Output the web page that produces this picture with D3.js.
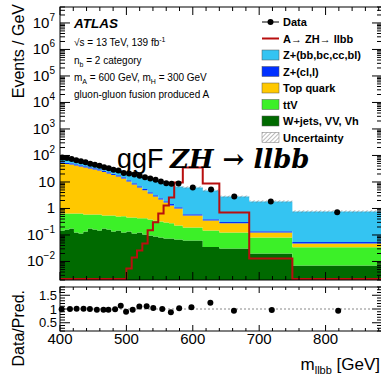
<!DOCTYPE html>
<html>
<head>
<meta charset="utf-8">
<script src="https://cdn.jsdelivr.net/npm/d3@7"></script>
<style>
body { margin: 0; background: #fff; }
text { font-family: "Liberation Sans", Arial, sans-serif; }
</style>
</head>
<body>
<svg id="chart" width="381" height="376"></svg>
<script>
// bin edges (GeV) of the m_llbb histogram
const edges = [400,407,414,421,428,435,442,449,456,463,470,477,484,492,500,508,516,524,532,540,548,556,564,572,585,615,640,685,750,885];

// background components, events / GeV per bin (bottom of stack first)
const wjets = [0.148,0.161,0.176,0.124,0.114,0.136,0.176,0.161,0.148,0.176,0.161,0.136,0.148,0.124,0.136,0.114,0.124,0.104,0.096,0.088,0.080,0.074,0.074,0.068,0.062,0.035,0.031,0.020,0.0071];
const ttv = [0.50,0.49,0.47,0.52,0.53,0.46,0.42,0.43,0.45,0.37,0.38,0.41,0.35,0.38,0.32,0.34,0.30,0.32,0.29,0.26,0.24,0.22,0.20,0.16,0.13,0.113,0.093,0.060,0.027];
const topQuark = [49.3,47.2,45.2,41.4,37.9,34.7,31.7,29.0,26.6,23.3,20.4,17.9,15.6,13.1,9.9,7.6,5.8,4.4,3.3,2.5,1.87,1.38,1.03,0.77,0.35,0.20,0.15,0.044,0.014];
const zLight = [6.0,5.7,5.5,5.0,4.6,4.2,3.9,3.6,3.3,2.9,2.5,2.2,1.9,1.6,1.25,0.97,0.74,0.57,0.44,0.34,0.26,0.20,0.16,0.12,0.065,0.042,0.033,0.015,0.006];
const zHeavy = [21,20,19,18,16.5,15,13.7,12.5,11,10,9.5,9.2,9,8.8,9,9.2,9.2,9,8.8,8.2,7.3,6.6,6.0,5.6,5.6,4.4,2.5,1.7,0.72];

// observed data per bin
const dataMain = [84,80,74,66,60,55,49,45,41,36,33,29,27,22,21,19,17,15,13.5,12,10.5,9,8.5,8.8,6.2,5.2,2.8,1.85,0.72];

// signal A -> ZH -> llbb per bin
const signal = [0,0,0,0,0,0,0,0,0,0,0,0,0,0,0.0054,0.014,0.026,0.048,0.15,0.30,0.65,1.3,2.6,9.6,35,8.8,0.71,0.013,0];

// ratio panel
const ratioMass = [402.5,415,425,435.5,445,455.5,465.5,473,483,491.5,499.5,509.5,519.5,530.5,540.5,554,567,579.5,598,626.5,662,719,819];
const ratioVals = [0.99,1.0,1.01,1.01,1.0,0.97,0.97,0.97,0.99,1.12,0.90,0.97,1.09,1.10,1.04,1.0,0.88,1.03,1.06,1.23,0.94,0.96,0.94];

const xTicks = [400,500,600,700,800];
const yExps = [-2,-1,0,1,2,3,4,5,6,7];
const ratioTicks = [0.5,1,1.5];

const keys = ["wjets","ttv","topQuark","zLight","zHeavy"];
const colors = {wjets:"#006a00", ttv:"#3cf028", topQuark:"#ffc800", zLight:"#0030ff", zHeavy:"#34c4f2"};

const svg = d3.select("#chart");
const L = 60, R = 382, T = 7, B = 280;
const rT = 287, rB = 331;

const x = d3.scaleLinear().domain([400, 885]).range([L, R]);
const y = d3.scaleLog().domain([0.002, 4e7]).range([B, T]);
const yr = d3.scaleLinear().domain([0.2, 1.8]).range([rB, rT]);

const defs = svg.append("defs");
defs.append("clipPath").attr("id", "clipMain")
  .append("rect").attr("x", L).attr("y", T).attr("width", R - L).attr("height", B - T);
const pat = defs.append("pattern").attr("id", "hatch")
  .attr("width", 3).attr("height", 3).attr("patternUnits", "userSpaceOnUse")
  .attr("patternTransform", "rotate(45)");
pat.append("line").attr("x1", 0).attr("y1", 0).attr("x2", 0).attr("y2", 3)
  .attr("stroke", "#777").attr("stroke-width", 1);

const rows = edges.slice(0, -1).map((e, i) => ({
  wjets: wjets[i], ttv: ttv[i], topQuark: topQuark[i], zLight: zLight[i], zHeavy: zHeavy[i]
}));
const stacked = d3.stack().keys(keys)(rows);

const ySafe = v => v > 0 ? y(v) : B + 20;

function steps(vals) {
  const pts = [];
  vals.forEach((d, i) => {
    pts.push({x: edges[i], v: d});
    pts.push({x: edges[i + 1], v: d});
  });
  return pts;
}

const plot = svg.append("g").attr("clip-path", "url(#clipMain)");

const area = d3.area()
  .x(d => x(d.x))
  .y0(d => ySafe(d.v[0]))
  .y1(d => ySafe(d.v[1]));

stacked.forEach(layer => {
  plot.append("path")
    .attr("d", area(steps(layer.map(d => [d[0], d[1]]))))
    .attr("fill", colors[layer.key]);
});

// uncertainty band
const totals = rows.map(r => keys.reduce((s, k) => s + r[k], 0));
plot.append("path")
  .attr("d", area(steps(totals.map(t => [t * 0.9, t * 1.1]))))
  .attr("fill", "url(#hatch)");

// signal
const line = d3.line().x(d => x(d.x)).y(d => Math.min(ySafe(d.v), B - 1));
plot.append("path")
  .attr("d", line(steps(signal)))
  .attr("fill", "none")
  .attr("stroke", "#b80f0f")
  .attr("stroke-width", 2);

// data points
const centers = edges.slice(0, -1).map((e, i) => (e + edges[i + 1]) / 2);
plot.selectAll("circle.data")
  .data(dataMain)
  .enter().append("circle")
  .attr("cx", (d, i) => x(centers[i]))
  .attr("cy", d => y(d))
  .attr("r", 3)
  .attr("fill", "#000");

// frames and ticks
function frame(top, bottom) {
  svg.append("rect").attr("x", L).attr("y", top).attr("width", R - L).attr("height", bottom - top)
    .attr("fill", "none").attr("stroke", "#000").attr("stroke-width", 1);
}
frame(T, B);
frame(rT, rB);

const ticks = svg.append("g").attr("stroke", "#000").attr("stroke-width", 1);
function xTicksOn(top, bottom, maj, mnr) {
  d3.range(400, 886, 20).forEach(v => {
    const len = v % 100 === 0 ? maj : mnr;
    const xx = x(v);
    ticks.append("line").attr("x1", xx).attr("x2", xx).attr("y1", bottom).attr("y2", bottom - len);
    ticks.append("line").attr("x1", xx).attr("x2", xx).attr("y1", top).attr("y2", top + len);
  });
}
xTicksOn(T, B, 8, 4);
xTicksOn(rT, rB, 6, 3);

// log y ticks
d3.range(-3, 8).forEach(e => {
  d3.range(1, 10).forEach(m => {
    const v = m * Math.pow(10, e);
    if (v < 0.002 || v > 4e7) return;
    const yy = y(v);
    const len = m === 1 ? 10 : 5;
    ticks.append("line").attr("x1", L).attr("x2", L + len).attr("y1", yy).attr("y2", yy);
    ticks.append("line").attr("x1", R).attr("x2", R - len).attr("y1", yy).attr("y2", yy);
  });
});

// ratio y ticks
d3.range(0.2, 1.81, 0.1).forEach(v => {
  const yy = yr(v);
  const major = ratioTicks.some(t => Math.abs(t - v) < 1e-6);
  const len = major ? 10 : 5;
  ticks.append("line").attr("x1", L).attr("x2", L + len).attr("y1", yy).attr("y2", yy);
  ticks.append("line").attr("x1", R).attr("x2", R - len).attr("y1", yy).attr("y2", yy);
});

// ratio line at 1
svg.append("line")
  .attr("x1", L).attr("x2", R).attr("y1", yr(1)).attr("y2", yr(1))
  .attr("stroke", "#888").attr("stroke-dasharray", "2,2");

svg.append("g").selectAll("circle")
  .data(ratioVals)
  .enter().append("circle")
  .attr("cx", (d, i) => x(ratioMass[i]))
  .attr("cy", d => yr(d))
  .attr("r", 3)
  .attr("fill", "#000");

// y labels main
const ylab = svg.append("g").attr("font-size", 15).attr("text-anchor", "end");
yExps.forEach(e => {
  const t = ylab.append("text").attr("x", 55).attr("y", y(Math.pow(10, e)) + 5);
  if (e === 0) t.text("1");
  else if (e === 1) t.text("10");
  else {
    t.append("tspan").text("10");
    t.append("tspan").attr("dy", -7).attr("font-size", 10).text(e < 0 ? "\u2212" + (-e) : e);
  }
});

// ratio y labels
svg.append("g").attr("font-size", 13).attr("text-anchor", "end")
  .selectAll("text").data(ratioTicks).enter().append("text")
  .attr("x", 57).attr("y", d => yr(d) + 4.5)
  .text(d => d);

// x labels
svg.append("g").attr("font-size", 15).attr("text-anchor", "middle")
  .selectAll("text").data(xTicks).enter().append("text")
  .attr("x", d => x(d)).attr("y", 344)
  .text(d => d);

// axis titles
svg.append("text").attr("transform", "translate(24,4) rotate(-90)")
  .attr("text-anchor", "end").attr("font-size", 16).text("Events / GeV");
svg.append("text").attr("transform", "translate(24,290) rotate(-90)")
  .attr("text-anchor", "end").attr("font-size", 16).text("Data/Pred.");
const xt = svg.append("text").attr("x", 380).attr("y", 370).attr("text-anchor", "end").attr("font-size", 17);
xt.append("tspan").text("m");
xt.append("tspan").attr("dy", 4).attr("font-size", 11).text("llbb");
xt.append("tspan").attr("dy", -4).text(" [GeV]");

// ATLAS text block
svg.append("text").attr("x", 74).attr("y", 28).attr("font-size", 13.5)
  .attr("font-weight", "bold").attr("font-style", "italic").text("ATLAS");
const info = svg.append("g").attr("font-size", 10);
const t1 = info.append("text").attr("x", 74).attr("y", 46);
t1.append("tspan").text("\u221As = 13 TeV, 139 fb");
t1.append("tspan").attr("dy", -4).attr("font-size", 7).text("-1");
const t2 = info.append("text").attr("x", 74).attr("y", 64);
t2.append("tspan").text("n");
t2.append("tspan").attr("dy", 3).attr("font-size", 7).text("b");
t2.append("tspan").attr("dy", -3).text(" = 2 category");
const t3 = info.append("text").attr("x", 74).attr("y", 81);
t3.append("tspan").text("m");
t3.append("tspan").attr("dy", 3).attr("font-size", 7).text("A");
t3.append("tspan").attr("dy", -3).text(" = 600 GeV, m");
t3.append("tspan").attr("dy", 3).attr("font-size", 7).text("H");
t3.append("tspan").attr("dy", -3).text(" = 300 GeV");
info.append("text").attr("x", 74).attr("y", 98).text("gluon-gluon fusion produced A");

// legend
const legendItems = [
  {label: "Data", type: "data"},
  {label: "A\u2192 ZH\u2192 llbb", type: "line"},
  {label: "Z+(bb,bc,cc,bl)", type: "box", key: "zHeavy"},
  {label: "Z+(cl,l)", type: "box", key: "zLight"},
  {label: "Top quark", type: "box", key: "topQuark"},
  {label: "ttV", type: "box", key: "ttv"},
  {label: "W+jets, VV, Vh", type: "box", key: "wjets"},
  {label: "Uncertainty", type: "hatch"}
];
const lg = svg.append("g");
legendItems.forEach((d, i) => {
  const cy = 22 + i * 16.5;
  if (d.type === "data") {
    lg.append("line").attr("x1", 262).attr("x2", 279).attr("y1", cy).attr("y2", cy).attr("stroke", "#000");
    lg.append("circle").attr("cx", 270.5).attr("cy", cy).attr("r", 3).attr("fill", "#000");
  } else if (d.type === "line") {
    lg.append("line").attr("x1", 262).attr("x2", 279).attr("y1", cy).attr("y2", cy)
      .attr("stroke", "#b80f0f").attr("stroke-width", 2);
  } else if (d.type === "box") {
    lg.append("rect").attr("x", 262).attr("y", cy - 5).attr("width", 17).attr("height", 10)
      .attr("fill", colors[d.key]).attr("stroke", "#555").attr("stroke-width", 0.5);
  } else {
    lg.append("rect").attr("x", 262).attr("y", cy - 5).attr("width", 17).attr("height", 10)
      .attr("fill", "url(#hatch)").attr("stroke", "#777").attr("stroke-width", 0.5);
  }
  lg.append("text").attr("x", 283).attr("y", cy + 4).attr("font-size", 11)
    .attr("font-weight", "bold").text(d.label);
});

// overlay title
svg.append("text").attr("x", 117).attr("y", 168).attr("font-size", 27).text("ggF");
svg.append("text").attr("x", 170).attr("y", 168)
  .style("font-family", "'DejaVu Serif', serif").style("font-weight", "bold").style("font-style", "italic")
  .style("font-size", "26px")
  .text("ZH \u2192 llbb");
</script>
</body>
</html>
